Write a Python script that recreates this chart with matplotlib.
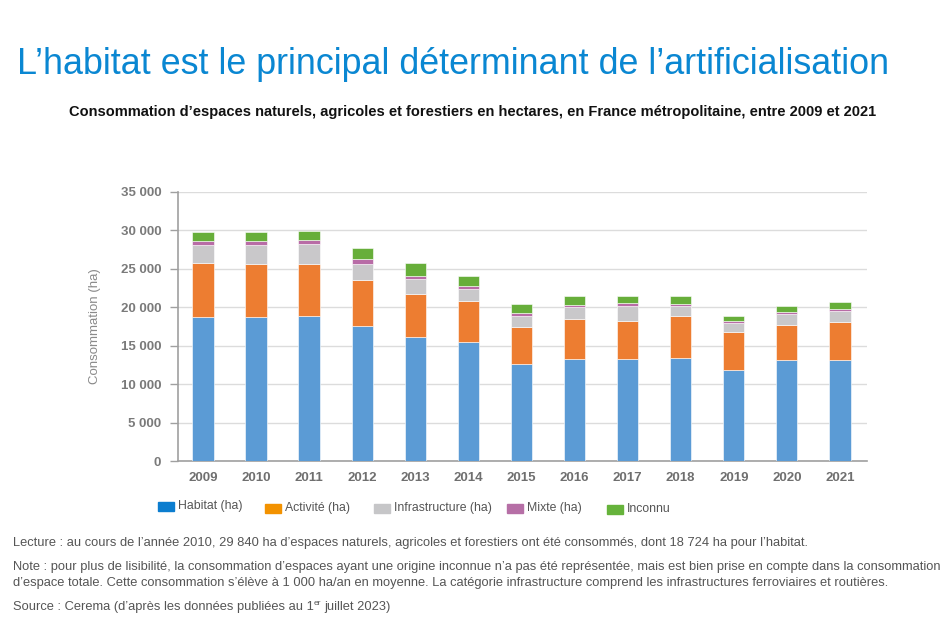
import matplotlib
matplotlib.use("Agg")
import matplotlib.pyplot as plt
from matplotlib.patches import Rectangle
import numpy as np

plt.rcParams['font.family'] = ['Liberation Sans', 'DejaVu Sans']

years = ["2009", "2010", "2011", "2012", "2013", "2014", "2015",
         "2016", "2017", "2018", "2019", "2020", "2021"]
habitat = [18740, 18724, 18830, 17610, 16130, 15520, 12570,
           13260, 13260, 13390, 11780, 13170, 13170]
activite = [6960, 6970, 6740, 5910, 5570, 5260, 4910,
            5260, 5000, 5440, 5040, 4520, 4910]
infrastructure = [2350, 2350, 2610, 2090, 2040, 1610, 1440,
                  1480, 1960, 1390, 1170, 1440, 1440]
mixte = [570, 570, 570, 610, 350, 440, 350,
         350, 350, 220, 220, 260, 300]
inconnu = [1220, 1230, 1220, 1440, 1650, 1220, 1170,
           1090, 870, 1000, 700, 740, 830]

series_names = ["Habitat (ha)", "Activité (ha)", "Infrastructure (ha)", "Mixte (ha)", "Inconnu"]
bar_colors = ["#5b9bd5", "#ed7d31", "#c9c8ca", "#b86ca6", "#67ae3a"]
legend_colors = ["#0b7dcf", "#f39200", "#c6c6c8", "#b66fa6", "#66b33b"]
yticks = [0, 5000, 10000, 15000, 20000, 25000, 30000, 35000]
ytick_labels = ["0", "5 000", "10 000", "15 000", "20 000", "25 000", "30 000", "35 000"]

title = "L\u2019habitat est le principal déterminant de l\u2019artificialisation"
subtitle = ("Consommation d\u2019espaces naturels, agricoles et forestiers en hectares, "
            "en France métropolitaine, entre 2009 et 2021")
foot_lines = [
    "Lecture : au cours de l\u2019année 2010, 29 840 ha d\u2019espaces naturels, agricoles et forestiers ont été consommés, dont 18 724 ha pour l\u2019habitat.",
    "Note : pour plus de lisibilité, la consommation d\u2019espaces ayant une origine inconnue n\u2019a pas été représentée, mais est bien prise en compte dans la consommation",
    "d\u2019espace totale. Cette consommation s\u2019élève à 1 000 ha/an en moyenne. La catégorie infrastructure comprend les infrastructures ferroviaires et routières.",
]
source_parts = ["Source : Cerema (d\u2019après les données publiées au 1", "er", "juillet 2023)"]

W, H = 952, 630
fig = plt.figure(figsize=(W / 100, H / 100), dpi=100)
ax = fig.add_axes([178 / W, 1 - 461 / H, (867 - 178) / W, (461 - 192) / H])

x = np.arange(len(years))
data = [habitat, activite, infrastructure, mixte, inconnu]
bottom = np.zeros(len(years))
for vals, col, name in zip(data, bar_colors, series_names):
    ax.bar(x, vals, width=0.40, bottom=bottom, color=col, label=name,
           edgecolor="#ffffff", linewidth=0.4, zorder=3)
    bottom += np.array(vals)

ax.set_xlim(-0.47, 12.51)
ax.set_ylim(0, 35000)
ax.set_yticks(yticks)
ax.set_yticklabels(ytick_labels)
ax.set_xticks(x)
ax.set_xticklabels(years)
ax.grid(axis="y", color="#dcdcdc", linewidth=1.0, zorder=0)
for s in ["top", "right"]:
    ax.spines[s].set_visible(False)
for s in ["left", "bottom"]:
    ax.spines[s].set_color("#a0a0a0")
    ax.spines[s].set_linewidth(1.2)
ax.tick_params(axis="y", length=6, color="#a0a0a0", width=1.0, pad=6,
               labelsize=9.5, labelcolor="#7a7a7a")
ax.tick_params(axis="x", length=0, pad=8, labelsize=9.5, labelcolor="#6f6f6f")
for lab in ax.get_yticklabels() + ax.get_xticklabels():
    lab.set_fontweight("bold")
ax.set_ylabel("Consommation (ha)", fontsize=9.5, color="#8a8a8a", labelpad=14)

# Titles
fig.text(17 / W, 1 - 74 / H, title, fontsize=25.8, color="#0a87d2", ha="left", va="baseline")
fig.text(473 / W, 1 - 116 / H, subtitle, fontsize=10.5, fontweight="bold", color="#111111",
         ha="center", va="baseline")

# Legend (manual)
leg_x = [158, 265, 374, 507, 607]
leg_y = [506, 508, 508, 508, 509]
for name, col, lx, ly in zip(series_names, legend_colors, leg_x, leg_y):
    fig.patches.append(Rectangle((lx / W, 1 - (ly + 4.5) / H), 16 / W, 9 / H,
                                 transform=fig.transFigure, color=col))
    fig.text((lx + 20) / W, 1 - ly / H, name, fontsize=8.8, color="#555555",
             ha="left", va="center")

# Footnotes
fs = 9.3
fig.text(13 / W, 1 - 543 / H, foot_lines[0], fontsize=fs, color="#555555", ha="left", va="center")
fig.text(13 / W, 1 - 567 / H, foot_lines[1], fontsize=fs, color="#555555", ha="left", va="center")
fig.text(13 / W, 1 - 583 / H, foot_lines[2], fontsize=fs, color="#555555", ha="left", va="center")

renderer = fig.canvas.get_renderer()
t1 = fig.text(13 / W, 1 - 610 / H, source_parts[0], fontsize=fs, color="#555555",
              ha="left", va="baseline")
x1 = t1.get_window_extent(renderer).x1
t2 = fig.text(x1 / W, 1 - 605 / H, source_parts[1], fontsize=6, color="#555555",
              ha="left", va="baseline")
x2 = t2.get_window_extent(renderer).x1
fig.text((x2 + 3) / W, 1 - 610 / H, source_parts[2], fontsize=fs, color="#555555",
         ha="left", va="baseline")

fig.savefig("out.png", dpi=100)
